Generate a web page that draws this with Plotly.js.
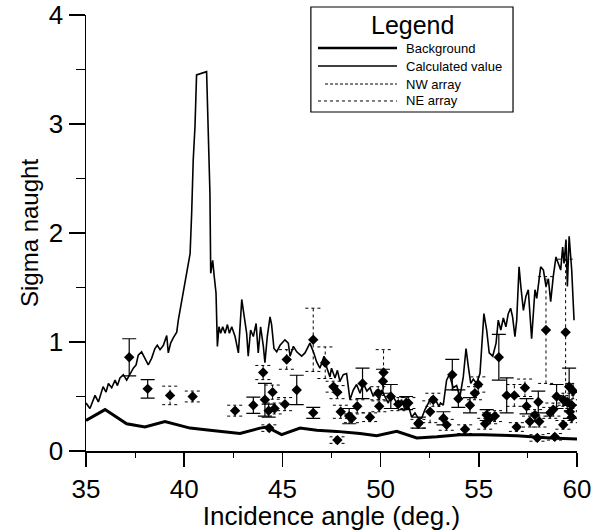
<!DOCTYPE html>
<html>
<head>
<meta charset="utf-8">
<script src="https://cdn.plot.ly/plotly-3.0.1.min.js"></script>
<style>html,body{margin:0;padding:0;background:#fff;}#chart{width:593px;height:531px;}</style>
</head>
<body>
<div id="chart"></div>
<script>
// ---------- DATA ----------
var calcX = [35.0,35.2,35.46,35.63,35.87,36.02,36.14,36.31,36.48,36.6,36.73,36.9,37.07,37.24,37.41,37.55,37.66,37.83,38.0,38.17,38.34,38.51,38.63,38.77,38.94,39.11,39.19,39.31,39.45,39.62,39.7,39.79,39.96,40.13,40.3,40.38,40.46,40.55,40.63,41.14,41.23,41.31,41.35,41.45,41.53,41.62,41.69,41.77,41.86,41.96,42.08,42.2,42.3,42.42,42.59,42.76,42.93,43.04,43.18,43.26,43.38,43.52,43.66,43.77,43.89,44.03,44.11,44.23,44.37,44.45,44.57,44.71,44.88,45.13,45.3,45.39,45.56,45.73,45.98,46.15,46.4,46.6,46.74,46.91,47.0,47.12,47.25,47.42,47.5,47.68,47.8,47.93,48.1,48.27,48.44,48.61,48.78,48.95,49.12,49.3,49.46,49.63,49.8,49.93,50.05,50.22,50.39,50.56,50.73,50.9,51.07,51.24,51.41,51.58,51.75,51.92,52.09,52.26,52.43,52.6,52.7,52.85,52.97,53.05,53.19,53.36,53.5,53.7,53.87,54.04,54.21,54.35,54.47,54.59,54.72,54.89,55.06,55.14,55.26,55.4,55.53,55.71,55.88,55.99,56.12,56.25,56.38,56.5,56.62,56.72,56.84,56.93,57.05,57.14,57.27,57.4,57.52,57.69,57.86,57.95,58.03,58.15,58.29,58.42,58.54,58.66,58.79,58.93,59.05,59.17,59.27,59.34,59.44,59.51,59.6,59.73,59.85];
var calcY = [0.44,0.39,0.51,0.45,0.59,0.54,0.62,0.58,0.65,0.60,0.67,0.70,0.65,0.71,0.76,0.79,0.88,0.91,0.85,0.79,0.85,0.94,0.97,0.93,0.97,1.06,0.90,0.99,1.04,1.09,1.20,1.29,1.45,1.63,1.81,2.18,2.67,2.98,3.45,3.48,2.98,2.37,1.63,1.75,1.60,1.45,0.96,1.14,1.08,1.14,1.08,1.16,1.08,1.14,1.05,0.90,1.39,1.27,1.08,0.87,1.11,1.05,1.17,0.90,1.14,0.96,0.81,1.05,1.23,1.16,0.94,0.91,0.97,1.02,0.99,0.87,0.96,0.91,0.87,0.90,0.99,0.90,0.82,0.76,0.80,0.87,0.77,0.68,0.76,0.67,0.74,0.64,0.70,0.71,0.47,0.56,0.61,0.53,0.62,0.55,0.58,0.50,0.56,0.47,0.56,0.50,0.44,0.52,0.47,0.42,0.47,0.38,0.42,0.31,0.35,0.30,0.30,0.38,0.44,0.50,0.46,0.45,0.41,0.44,0.42,0.65,0.70,0.58,0.60,0.50,0.68,0.94,0.77,0.62,0.66,0.62,0.71,0.96,1.26,1.11,0.90,0.87,0.99,1.20,1.11,1.22,1.14,1.26,1.31,1.23,1.05,1.20,1.69,1.51,1.29,1.42,1.48,1.03,1.48,1.40,1.51,1.69,1.66,1.51,1.58,1.37,1.60,1.78,1.72,1.66,1.87,1.72,1.94,1.51,1.97,1.66,1.20];

var bgX = [35.0,35.97,37.07,38.0,39.02,40.0,40.3,41.31,42.84,43.86,44.2,44.96,45.9,46.75,47.76,48.95,49.8,50.82,51.84,52.86,54.04,55.23,56.93,58.63,60.0];
var bgY = [0.28,0.38,0.25,0.22,0.27,0.22,0.21,0.19,0.16,0.21,0.22,0.15,0.21,0.19,0.18,0.16,0.14,0.18,0.12,0.13,0.15,0.15,0.14,0.12,0.11];

var nwX = [37.2,38.14,43.52,44.11,44.3,45.73,46.57,48.4,49.08,50.12,50.52,51.3,51.95,53.2,53.65,53.96,54.55,55.4,56.02,56.42,57.43,58.03,58.96,59.6,59.64];
var nwY = [0.86,0.57,0.42,0.47,0.37,0.56,0.35,0.32,0.62,0.64,0.50,0.44,0.26,0.30,0.70,0.48,0.42,0.33,0.86,0.51,0.41,0.45,0.50,0.59,0.36];
var nwErr = [0.17,0.085,0.075,0.15,0.06,0.135,0.05,0.07,0.14,0.11,0.11,0.06,0.05,0.06,0.14,0.08,0.07,0.05,0.21,0.16,0.07,0.10,0.11,0.17,0.06];

var neX = [39.28,40.43,42.59,44.02,44.33,44.5,44.6,45.13,45.22,46.57,47.18,47.6,47.8,47.8,47.97,48.53,48.81,49.46,49.88,49.93,50.15,50.9,51.41,51.92,52.52,52.68,53.36,54.3,54.8,54.97,55.32,55.57,55.82,56.81,56.93,57.35,57.6,57.86,57.98,58.08,58.42,58.63,58.79,58.87,59.3,59.3,59.42,59.5,59.73,59.73,59.8];
var neY = [0.51,0.50,0.37,0.72,0.21,0.54,0.39,0.43,0.84,1.02,0.81,0.59,0.54,0.10,0.36,0.30,0.41,0.31,0.53,0.41,0.72,0.43,0.44,0.25,0.36,0.47,0.24,0.20,0.53,0.61,0.25,0.30,0.32,0.51,0.22,0.58,0.27,0.33,0.12,0.27,1.11,0.35,0.38,0.13,0.24,0.47,1.09,0.45,0.42,0.31,0.55];
var neErr = [0.085,0.05,0.05,0.065,0.03,0.065,0.05,0.06,0.09,0.29,0.145,0.05,0.06,0.03,0.06,0.04,0.06,0.04,0.06,0.05,0.21,0.06,0.05,0.04,0.10,0.06,0.05,0.04,0.06,0.07,0.05,0.05,0.05,0.10,0.04,0.08,0.05,0.05,0.03,0.05,0.49,0.05,0.06,0.03,0.04,0.06,0.67,0.06,0.05,0.05,0.07];

var legendLabels = ["Background","Calculated value","NW array","NE array"];

// ---------- BUILD ----------
var FONT = "Liberation Sans, Arial, sans-serif";
var NE_CAP = 0.4; // half cap width in degrees (style)

function dottedBars(xs, ys, es, cap){
  var bx=[], by=[];
  for (var i=0;i<xs.length;i++){
    var lo=ys[i]-es[i], hi=ys[i]+es[i];
    bx.push(xs[i],xs[i],null, xs[i]-cap,xs[i]+cap,null, xs[i]-cap,xs[i]+cap,null);
    by.push(lo,hi,null, hi,hi,null, lo,lo,null);
  }
  return {x:bx,y:by};
}
var neBars = dottedBars(neX, neY, neErr, NE_CAP);

var traces = [
  {x:bgX, y:bgY, mode:'lines', line:{color:'#000', width:3}, name:'Background', hoverinfo:'skip'},
  {x:calcX, y:calcY, mode:'lines', line:{color:'#000', width:1.6}, name:'Calculated value'},
  {x:neBars.x, y:neBars.y, mode:'lines', line:{color:'#000', width:1, dash:'dot'}, name:'NE bars', hoverinfo:'skip'},
  {x:nwX, y:nwY, mode:'markers', name:'NW array',
   marker:{symbol:'diamond', size:8, color:'#000'},
   error_y:{type:'data', array:nwErr, visible:true, color:'#000', thickness:1.2, width:7}},
  {x:neX, y:neY, mode:'markers', name:'NE array',
   marker:{symbol:'diamond', size:8, color:'#000'}}
];

// custom legend (paper coords)
var lx0=0.4725, lx1=0.6334, ltx=0.6477;
var ly=[0.9243,0.883,0.8417,0.8028];
var shapes = [
  {type:'rect', xref:'paper', yref:'paper', x0:0.458, x1:0.8697, y0:0.7775, y1:1.0183, line:{color:'#000', width:1.2}, fillcolor:'#fff', layer:'above'},
  {type:'line', xref:'paper', yref:'paper', x0:lx0, x1:lx1, y0:ly[0], y1:ly[0], line:{color:'#000', width:2.6}},
  {type:'line', xref:'paper', yref:'paper', x0:lx0, x1:lx1, y0:ly[1], y1:ly[1], line:{color:'#000', width:1.3}},
  {type:'line', xref:'paper', yref:'paper', x0:0.4868, x1:lx1, y0:ly[2], y1:ly[2], line:{color:'#000', width:1, dash:'3px,2px'}},
  {type:'line', xref:'paper', yref:'paper', x0:lx0, x1:lx1, y0:ly[3], y1:ly[3], line:{color:'#000', width:1, dash:'dot'}}
];
var annotations = [
  {xref:'paper', yref:'paper', x:0.664, y:0.977, text:'Legend', showarrow:false, xanchor:'center', yanchor:'middle', font:{family:FONT, size:25, color:'#000'}}
];
for (var i=0;i<legendLabels.length;i++){
  annotations.push({xref:'paper', yref:'paper', x:ltx, y:ly[i], text:legendLabels[i], showarrow:false, xanchor:'left', yanchor:'middle', font:{family:FONT, size:13, color:'#000'}});
}

var layout = {
  width:593, height:531,
  margin:{l:86, r:16, t:15, b:80, pad:0},
  paper_bgcolor:'#fff', plot_bgcolor:'#fff',
  showlegend:false,
  font:{family:FONT, color:'#000'},
  xaxis:{
    range:[35,60], tickvals:[35,40,45,50,55,60], ticks:'outside', ticklen:14, tickwidth:1.5, tickcolor:'#000',
    showline:true, linecolor:'#000', linewidth:1.5, showgrid:false, zeroline:false,
    tickfont:{family:FONT, size:26, color:'#000'},
    minor:{dtick:2.5, tick0:35, ticks:'outside', ticklen:5, tickwidth:1, tickcolor:'#000', showgrid:false},
    title:{text:'Incidence angle (deg.)', font:{family:FONT, size:26, color:'#000'}, standoff:4}
  },
  yaxis:{
    range:[0,4], tickvals:[0,1,2,3,4], ticks:'outside', ticklen:16, tickwidth:1.5, tickcolor:'#000',
    showline:true, linecolor:'#000', linewidth:1.5, showgrid:false, zeroline:false,
    tickfont:{family:FONT, size:26, color:'#000'},
    minor:{dtick:0.5, tick0:0, ticks:'outside', ticklen:9, tickwidth:1, tickcolor:'#000', showgrid:false},
    title:{text:'Sigma naught', font:{family:FONT, size:24, color:'#000'}, standoff:3}
  },
  shapes:shapes,
  annotations:annotations
};

Plotly.newPlot('chart', traces, layout, {displayModeBar:false, staticPlot:true});
</script>
</body>
</html>
